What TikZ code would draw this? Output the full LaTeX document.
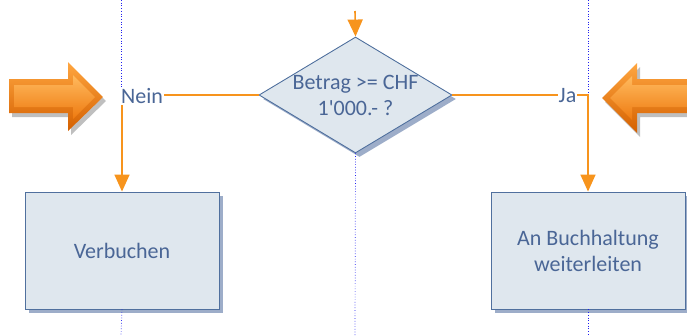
\documentclass[tikz,border=0pt]{standalone}
\usepackage{fontspec}
\newfontfamily\carl{Carlito}
\usetikzlibrary{shapes.geometric,arrows.meta,shadows}
\definecolor{orng}{HTML}{F7941D}
\definecolor{txtc}{HTML}{4A6696}
\definecolor{boxfill}{HTML}{DFE7EE}
\definecolor{boxline}{HTML}{50709E}
\definecolor{shadowc}{HTML}{9DADC9}
\definecolor{lanec}{HTML}{2020F0}
\definecolor{arA}{HTML}{FFA640}
\definecolor{arB}{HTML}{D46000}
\definecolor{arC}{HTML}{FFBA5E}
\definecolor{arD}{HTML}{FF8C1A}
\definecolor{arE}{HTML}{EE7A10}
\tikzset{
  txt/.style={font=\carl\fontsize{22}{26}\selectfont, text=txtc, align=center},
  procbox/.style={rectangle, draw=boxline, line width=0.9pt, fill=boxfill,
    minimum width=194pt, minimum height=117pt, inner sep=0pt, txt,
    drop shadow={shadow xshift=4pt, shadow yshift=-4pt, fill=shadowc, opacity=1}},
  decbox/.style={diamond, draw=boxline, line width=0.9pt, fill=boxfill,
    minimum width=193pt, minimum height=116pt, inner sep=0pt,
    drop shadow={shadow xshift=4pt, shadow yshift=-4pt, fill=shadowc, opacity=1}},
  flow/.style={draw=orng, line width=1.6pt, -{Triangle[length=17pt,width=15pt]}},
  lane/.style={draw=lanec, line width=0.7pt, dotted},
  lbl/.style={txt, fill=white, inner sep=1pt}
}
\begin{document}
\begin{tikzpicture}[x=1pt,y=-1pt]
\useasboundingbox (0,0) rectangle (687,335);
% lane end points
\coordinate (lt) at (121,0);
\coordinate (lm) at (121,96);
\coordinate (rt) at (588,0);
\coordinate (rm) at (588,96);
\coordinate (lb) at (121,335);
\coordinate (mb) at (355,335);
\coordinate (rb) at (588,335);
\coordinate (topin) at (355,11);
% nodes
\node[decbox] (dec) at (355.5,95) {};
\node[txt] (dectext) at (dec.center) {Betrag >= CHF\\1'000.- ?};
\node[procbox] (verb) at (122,250.5) {Verbuchen};
\node[procbox] (an) at (588,250.5) {An Buchhaltung\\weiterleiten};
% lanes
\draw[lane] (lt) -- (lm);
\draw[lane] (rt) -- (rm);
\draw[lane] (verb.south) -- (lb);
\draw[lane] (an.south) -- (rb);
\draw[lane] (dec.south) -- (mb);
% connectors
\draw[flow] (topin) -- (dec.north);
\draw[flow] (dec.west) -| (verb.north);
\draw[flow] (dec.east) -| (an.north);
\node[lbl] (nein) at (142,96) {Nein};
\node[lbl] (ja) at (567.5,96) {Ja};
% left block arrow
\fill[black,opacity=0.25] (12,83) -- (71,83) -- (71,66) -- (106,101) -- (71,135) -- (71,117) -- (12,117) -- cycle;
\shade[top color=arA, bottom color=arB] (9,79) -- (68,79) -- (68,62) -- (103,97) -- (68,131) -- (68,113) -- (9,113) -- cycle;
\shade[top color=arC, middle color=arD, bottom color=arE] (14,85) -- (73,85) -- (73,75) -- (95,97) -- (73,119) -- (73,107) -- (14,107) -- cycle;
% right block arrow
\fill[black,opacity=0.25] (700,83) -- (640,83) -- (640,67) -- (605,102) -- (640,137) -- (640,117) -- (700,117) -- cycle;
\shade[top color=arA, bottom color=arB] (700,79) -- (637,79) -- (637,63) -- (602,98) -- (637,133) -- (637,113) -- (700,113) -- cycle;
\shade[top color=arC, middle color=arD, bottom color=arE] (700,85) -- (632,85) -- (632,76) -- (610,98) -- (632,120) -- (632,107) -- (700,107) -- cycle;
\end{tikzpicture}
\end{document}
